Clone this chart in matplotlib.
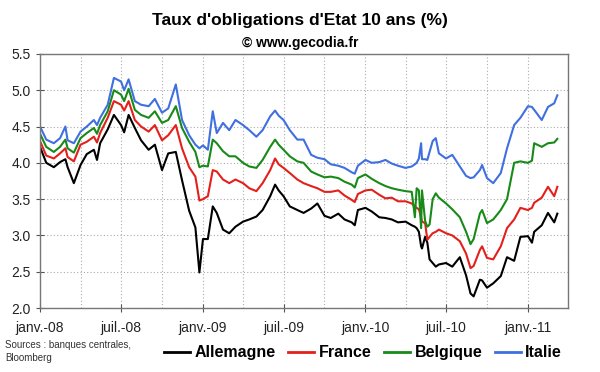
import pandas as pd
import matplotlib
matplotlib.use('Agg')
import matplotlib.pyplot as plt
import matplotlib.dates as mdates

plt.rcParams['font.family'] = ['Liberation Sans', 'DejaVu Sans']

# dates (approx. bimensuel + points remarquables)
dates = [
    "2008-01-01", "2008-01-15", "2008-02-01", "2008-02-15", "2008-02-27", "2008-03-03", "2008-03-17",
    "2008-04-01", "2008-04-15", "2008-05-01", "2008-05-08", "2008-05-15", "2008-06-01", "2008-06-15",
    "2008-07-01", "2008-07-08", "2008-07-18", "2008-08-01", "2008-08-15", "2008-09-01", "2008-09-15",
    "2008-10-01", "2008-10-15", "2008-11-01", "2008-11-15", "2008-12-01", "2008-12-15", "2008-12-24",
    "2009-01-01", "2009-01-12", "2009-01-23", "2009-02-01", "2009-02-15", "2009-03-01", "2009-03-15",
    "2009-04-01", "2009-04-15", "2009-05-01", "2009-05-15", "2009-06-01", "2009-06-12", "2009-06-20",
    "2009-07-01", "2009-07-15", "2009-08-01", "2009-08-15", "2009-09-01", "2009-09-15", "2009-10-01",
    "2009-10-15", "2009-11-01", "2009-11-15", "2009-12-01", "2009-12-08", "2009-12-15",
    "2010-01-01", "2010-01-15", "2010-02-01", "2010-02-15", "2010-03-01", "2010-03-15", "2010-04-01",
    "2010-04-15", "2010-04-22", "2010-04-26", "2010-05-01", "2010-05-06", "2010-05-08", "2010-05-15",
    "2010-05-20", "2010-05-25", "2010-06-01", "2010-06-08", "2010-06-15", "2010-07-01", "2010-07-15",
    "2010-08-01", "2010-08-15", "2010-08-25", "2010-09-01", "2010-09-15", "2010-09-20", "2010-10-01",
    "2010-10-15", "2010-11-01", "2010-11-15", "2010-12-01", "2010-12-15",
    "2011-01-01", "2011-01-10", "2011-01-15", "2011-02-01", "2011-02-15", "2011-03-01", "2011-03-08",
]

allemagne = [
    4.22, 4.00, 3.94, 4.01, 4.05, 3.94, 3.72, 3.97, 4.12, 4.18, 4.04, 4.27, 4.46, 4.66,
    4.52, 4.42, 4.66, 4.48, 4.31, 4.18, 4.25, 3.90, 4.13, 4.15, 3.76, 3.34, 3.11, 2.49,
    2.95, 2.95, 3.40, 3.31, 3.08, 3.03, 3.12, 3.19, 3.22, 3.26, 3.35, 3.54, 3.70, 3.62,
    3.54, 3.40, 3.35, 3.31, 3.37, 3.44, 3.27, 3.24, 3.30, 3.22, 3.18, 3.14, 3.35,
    3.38, 3.33, 3.25, 3.24, 3.22, 3.18, 3.19, 3.14, 3.12, 3.10, 3.05, 2.85, 2.82, 2.98,
    2.90, 2.67, 2.62, 2.57, 2.60, 2.62, 2.57, 2.70, 2.45, 2.20, 2.16, 2.39, 2.38, 2.28,
    2.34, 2.44, 2.70, 2.65, 2.98,
    2.99, 2.90, 3.05, 3.14, 3.31, 3.18, 3.30,
]
france = [
    4.30, 4.10, 4.06, 4.13, 4.20, 4.08, 4.02, 4.25, 4.29, 4.36, 4.28, 4.41, 4.62, 4.85,
    4.80, 4.72, 4.85, 4.59, 4.50, 4.43, 4.52, 4.31, 4.38, 4.52, 4.20, 3.94, 3.81, 3.48,
    3.50, 3.54, 3.90, 3.88, 3.77, 3.72, 3.77, 3.72, 3.65, 3.61, 3.72, 3.90, 4.06, 3.98,
    3.93, 3.86, 3.77, 3.72, 3.68, 3.65, 3.60, 3.60, 3.62, 3.55, 3.49, 3.46, 3.57,
    3.62, 3.63, 3.56, 3.51, 3.52, 3.47, 3.47, 3.44, 3.40, 3.38, 3.36, 3.25, 3.19, 3.17,
    2.94, 2.98, 3.03, 3.05, 3.08, 3.03, 3.00, 2.92, 2.75, 2.55, 2.58, 2.80, 2.85, 2.69,
    2.67, 2.85, 3.10, 3.22, 3.38,
    3.35, 3.38, 3.45, 3.52, 3.67, 3.54, 3.67,
]
belgique = [
    4.40, 4.22, 4.15, 4.22, 4.32, 4.20, 4.14, 4.34, 4.41, 4.48, 4.40, 4.52, 4.71, 5.00,
    4.94, 4.85, 5.02, 4.73, 4.66, 4.62, 4.71, 4.55, 4.59, 4.78, 4.48, 4.29, 4.15, 3.94,
    3.96, 3.95, 4.32, 4.27, 4.16, 4.09, 4.09, 4.00, 3.95, 3.93, 4.04, 4.22, 4.32, 4.25,
    4.18, 4.09, 4.02, 4.00, 3.88, 3.84, 3.80, 3.81, 3.79, 3.74, 3.70, 3.66, 3.79,
    3.84, 3.78, 3.72, 3.68, 3.65, 3.63, 3.61, 3.60, 3.25, 3.65, 3.62, 3.10, 3.62, 3.20,
    3.12, 3.15, 3.50, 3.58, 3.52, 3.44, 3.36, 3.25, 3.05, 2.88, 2.95, 3.30, 3.35, 3.17,
    3.22, 3.35, 3.50, 4.00, 4.02,
    4.00, 4.03, 4.27, 4.22, 4.27, 4.28, 4.33,
]
italie = [
    4.50, 4.32, 4.27, 4.34, 4.50, 4.31, 4.27, 4.43, 4.50, 4.59, 4.52, 4.62, 4.80, 5.17,
    5.12, 5.00, 5.15, 4.85, 4.80, 4.78, 4.88, 4.69, 4.75, 5.08, 4.59, 4.38, 4.25, 4.20,
    4.24, 4.18, 4.71, 4.41, 4.55, 4.45, 4.59, 4.52, 4.45, 4.36, 4.45, 4.64, 4.72, 4.65,
    4.59, 4.45, 4.32, 4.32, 4.11, 4.07, 4.05, 3.98, 3.96, 3.93, 3.87, 3.85, 3.96,
    4.04, 4.00, 4.01, 4.04, 3.99, 3.96, 3.93, 3.95, 3.98, 4.00, 4.06, 4.27, 4.05, 4.05,
    4.04, 4.15, 4.30, 4.34, 4.13, 4.06, 4.11, 3.95, 3.82, 3.79, 3.80, 3.90, 3.97, 3.79,
    3.72, 3.86, 4.20, 4.52, 4.62,
    4.78, 4.77, 4.73, 4.59, 4.77, 4.82, 4.93,
]

x = pd.to_datetime(dates)

fig = plt.figure(figsize=(6, 3.72), dpi=100)
ax = fig.add_axes([0.0667, 0.172, 0.88, 0.683])

ax.plot(x, allemagne, color='black', lw=1.5, label='Allemagne')
ax.plot(x, france, color='#e3201b', lw=1.5, label='France')
ax.plot(x, belgique, color='#178a17', lw=1.5, label='Belgique')
ax.plot(x, italie, color='#3f6fe0', lw=1.5, label='Italie')

ax.set_ylim(2.0, 5.5)
ax.set_yticks([2.0, 2.5, 3.0, 3.5, 4.0, 4.5, 5.0, 5.5])
ax.set_yticklabels(['2.0', '2.5', '3.0', '3.5', '4.0', '4.5', '5.0', '5.5'])
ax.set_xlim(pd.Timestamp('2008-01-01'), pd.Timestamp('2011-04-01'))

ax.xaxis.set_major_locator(mdates.MonthLocator(bymonth=[1, 7]))
ax.xaxis.set_minor_locator(mdates.MonthLocator(bymonth=[4, 10]))
mois = {1: 'janv.', 7: 'juil.'}
ax.xaxis.set_major_formatter(plt.FuncFormatter(
    lambda v, p: f"{mois[mdates.num2date(v).month]}-{mdates.num2date(v).year % 100:02d}"))

ax.grid(True, which='both', axis='x', color='#aaaaaa', linestyle=(0, (1, 2)), lw=0.8)
ax.grid(True, which='major', axis='y', color='#aaaaaa', linestyle=(0, (1, 2)), lw=0.8)
ax.set_axisbelow(True)

for s in ax.spines.values():
    s.set_color('#777777')
    s.set_linewidth(1.0)
ax.tick_params(axis='both', which='major', direction='inout', length=6, color='#555555',
               labelsize=10, labelcolor='#222222')
ax.tick_params(axis='x', which='major', pad=6)
ax.tick_params(axis='x', which='minor', length=0)

fig.text(0.5, 0.945, "Taux d'obligations d'Etat 10 ans (%)", ha='center', va='center',
         fontsize=12.5, fontweight='bold')
fig.text(0.5, 0.885, "© www.gecodia.fr", ha='center', va='center',
         fontsize=10, fontweight='bold')

fig.text(0.008, 0.055, "Sources : banques centrales,\nBloomberg", ha='left', va='center',
         fontsize=7, color='#333333', linespacing=1.35)

leg = fig.legend(loc='center', bbox_to_anchor=(0.605, 0.052), ncol=4, frameon=False,
                 handlelength=1.6, handletextpad=0.3, columnspacing=0.8,
                 prop={'weight': 'bold', 'size': 11.5})
for line in leg.get_lines():
    line.set_linewidth(2)

fig.savefig('out.png', dpi=100)
